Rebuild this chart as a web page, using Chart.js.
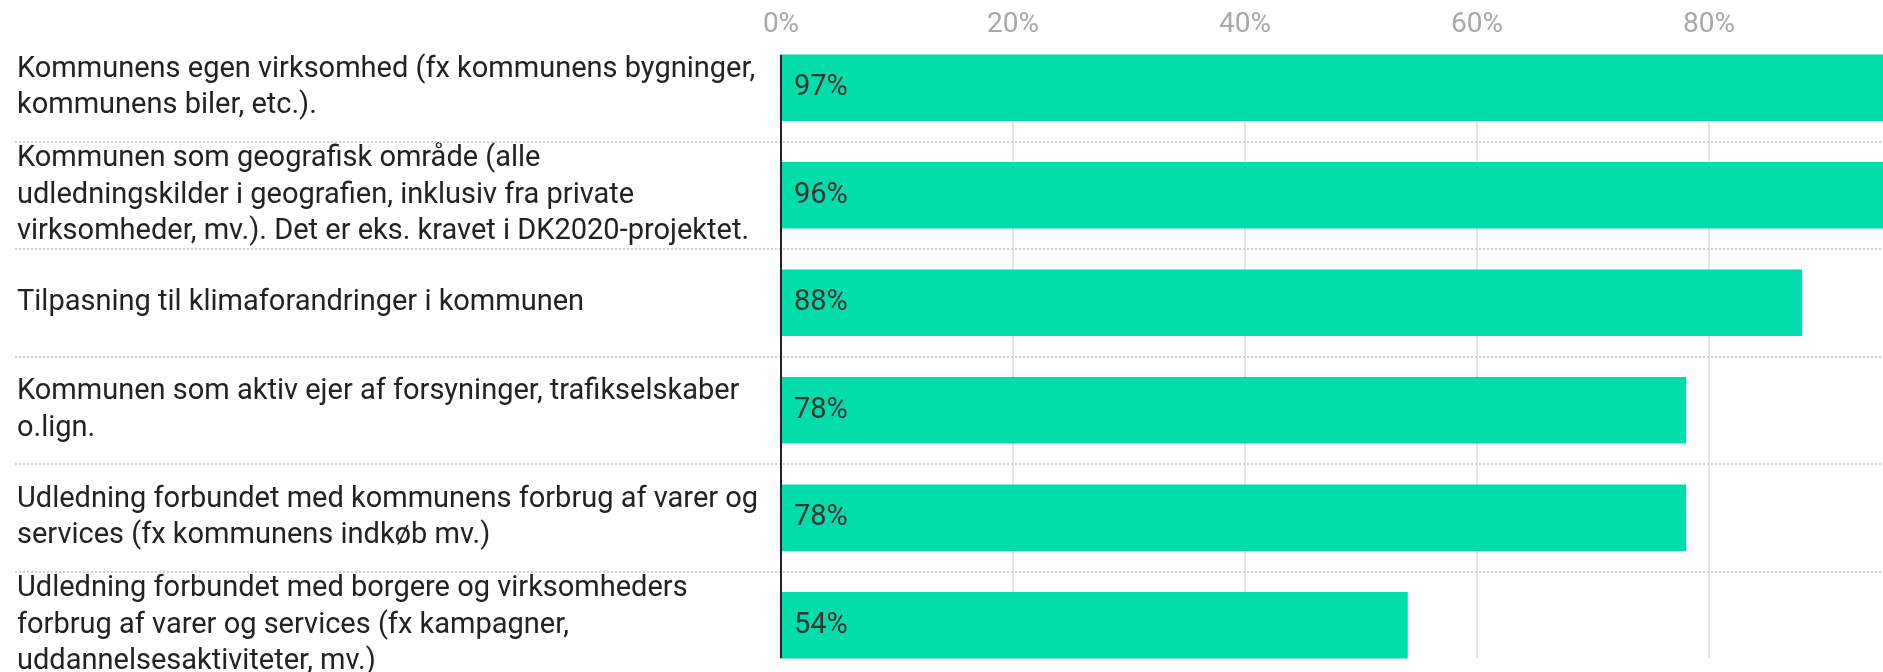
<!DOCTYPE html>
<html>
<head>
<meta charset="utf-8">
<script src="https://cdn.jsdelivr.net/npm/chart.js@4.4.1/dist/chart.umd.min.js"></script>
<style>
  html, body { margin: 0; padding: 0; background: #fff; }
  #wrap { width: 1883px; height: 672px; overflow: hidden; position: relative; }
  #wrap canvas { position: absolute; left: 0; top: 0; }
</style>
</head>
<body>
<div id="wrap">
  <canvas id="scope-chart" width="1960" height="700"></canvas>
</div>
<script>
var categories = [
    ["Kommunens egen virksomhed (fx kommunens bygninger,", "kommunens biler, etc.)."],
    ["Kommunen som geografisk område (alle", "udledningskilder i geografien, inklusiv fra private", "virksomheder, mv.). Det er eks. kravet i DK2020-projektet."],
    "Tilpasning til klimaforandringer i kommunen",
    ["Kommunen som aktiv ejer af forsyninger, trafikselskaber", "o.lign."],
    ["Udledning forbundet med kommunens forbrug af varer og", "services (fx kommunens indkøb mv.)"],
    ["Udledning forbundet med borgere og virksomheders", "forbrug af varer og services (fx kampagner,", "uddannelsesaktiviteter, mv.)"]
];
var shares = [97, 96, 88, 78, 78, 54];
var tickValues = [0, 20, 40, 60, 80, 100];

var barColor = '#00dcaa';

// grid, row separators and the zero line, drawn over the extent of the bars
var rowLines = {
    id: 'rowLines',
    beforeDatasetsDraw: function(chart) {
        var ctx = chart.ctx;
        var bars = chart.getDatasetMeta(0).data;
        var xScale = chart.scales.x;
        var top = bars[0].y - bars[0].height / 2;
        var bottom = bars[bars.length - 1].y + bars[bars.length - 1].height / 2;
        ctx.save();
        ctx.strokeStyle = '#e6e6e6';
        ctx.lineWidth = 2;
        tickValues.forEach(function(v) {
            if (v === 0) return;
            var x = Math.round(xScale.getPixelForValue(v));
            ctx.beginPath();
            ctx.moveTo(x, top);
            ctx.lineTo(x, bottom);
            ctx.stroke();
        });
        ctx.strokeStyle = '#cfcfcf';
        ctx.setLineDash([2, 2]);
        for (var i = 0; i < bars.length - 1; i++) {
            var y = Math.round((bars[i].y + bars[i + 1].y) / 2);
            ctx.beginPath();
            ctx.moveTo(15, y);
            ctx.lineTo(chart.width, y);
            ctx.stroke();
        }
        ctx.restore();
    },
    afterDatasetsDraw: function(chart) {
        var ctx = chart.ctx;
        var bars = chart.getDatasetMeta(0).data;
        var x0 = chart.scales.x.getPixelForValue(0);
        var top = bars[0].y - bars[0].height / 2;
        var bottom = bars[bars.length - 1].y + bars[bars.length - 1].height / 2;
        ctx.save();
        ctx.fillStyle = '#333333';
        ctx.font = '29px Roboto';
        ctx.textAlign = 'left';
        ctx.textBaseline = 'middle';
        bars.forEach(function(bar, i) {
            ctx.fillText(shares[i] + '%', x0 + 13, bar.y);
        });
        ctx.strokeStyle = '#222222';
        ctx.lineWidth = 2;
        ctx.beginPath();
        ctx.moveTo(x0, top);
        ctx.lineTo(x0, bottom);
        ctx.stroke();
        ctx.restore();
    }
};

var chartCanvas = document.getElementById('scope-chart');

new Chart(chartCanvas, {
    type: 'bar',
    data: {
        labels: categories,
        datasets: [{
            data: shares,
            backgroundColor: barColor,
            borderWidth: 0,
            barThickness: 66
        }]
    },
    options: {
        indexAxis: 'y',
        responsive: false,
        animation: false,
        layout: {
            padding: { left: 17, right: 19, top: 0, bottom: 21 }
        },
        plugins: {
            legend: { display: false },
            tooltip: { enabled: false }
        },
        scales: {
            x: {
                position: 'top',
                min: 0,
                max: 100,
                afterBuildTicks: function(scale) {
                    scale.ticks = tickValues.map(function(v) { return { value: v }; });
                },
                afterFit: function(scale) {
                    scale.height = 34;
                    scale.paddingLeft = 0;
                    scale.paddingRight = 0;
                },
                grid: { display: false, drawTicks: false },
                border: { display: false },
                ticks: {
                    padding: -8,
                    color: '#a8a8a8',
                    font: { family: 'Roboto', size: 28 },
                    callback: function(v) { return v + '%'; }
                }
            },
            y: {
                offset: true,
                afterFit: function(scale) {
                    scale.width = 764;
                    scale.paddingTop = 0;
                    scale.paddingBottom = 0;
                },
                grid: { display: false, drawTicks: false },
                border: { display: false },
                ticks: {
                    autoSkip: false,
                    crossAlign: 'far',
                    padding: 0,
                    color: '#222222',
                    font: { family: 'Roboto', size: 29, lineHeight: 1.25 }
                }
            }
        }
    },
    plugins: [rowLines]
});
</script>
</body>
</html>
